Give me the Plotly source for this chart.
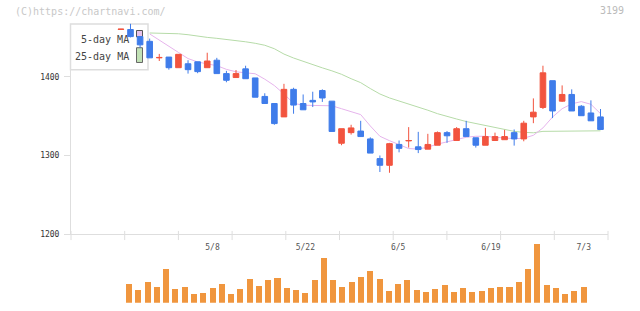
import plotly.graph_objects as go

# ---------------- data ----------------
dates = ['4/19', '4/20', '4/21', '4/24', '4/25', '4/26', '4/27', '4/28', '5/1', '5/2',
         '5/8', '5/9', '5/10', '5/11', '5/12', '5/15', '5/16', '5/17', '5/18', '5/19',
         '5/22', '5/23', '5/24', '5/25', '5/26', '5/29', '5/30', '5/31', '6/1', '6/2',
         '6/5', '6/6', '6/7', '6/8', '6/9', '6/12', '6/13', '6/14', '6/15', '6/16',
         '6/19', '6/20', '6/21', '6/22', '6/23', '6/26', '6/27', '6/28', '6/29', '6/30',
         '7/3']

opens = [1460, 1460, 1451, 1445, 1424, 1425, 1411.5, 1416.5, 1419, 1411.5,
         1421, 1404, 1399, 1410, 1398.5, 1375, 1366, 1349, 1384, 1366,
         1370, 1382.5, 1369, 1315.5, 1329, 1331, 1321, 1296, 1287.5, 1314,
         1318.5, 1311, 1308, 1313, 1329, 1319, 1334, 1322.5, 1313, 1319,
         1320, 1329, 1321, 1349, 1361, 1395, 1369, 1377.5, 1362.5, 1354,
         1349]
highs = [1460.5, 1467.5, 1451, 1448.5, 1429, 1425, 1428.5, 1421, 1419, 1430.5,
         1424, 1407.5, 1408.5, 1414, 1398.5, 1379, 1366, 1391, 1386, 1377.5,
         1381, 1384, 1369, 1334, 1339, 1344, 1323, 1300, 1316, 1319,
         1336, 1330, 1327.5, 1330.5, 1331, 1336, 1344, 1322.5, 1335, 1329,
         1332.5, 1333, 1344, 1372.5, 1414, 1395, 1389, 1384, 1364, 1370,
         1359]
lows = [1460, 1450, 1437, 1424, 1420, 1409, 1411.5, 1404, 1404.5, 1411.5,
        1404, 1393, 1399, 1397.5, 1374, 1366, 1339, 1349, 1353, 1358,
        1361.5, 1368, 1330.5, 1313, 1326.5, 1324, 1303, 1279, 1278, 1304,
        1310, 1303, 1308, 1313, 1316, 1319, 1324, 1310, 1313, 1319,
        1320, 1312.5, 1318, 1341, 1359, 1347.5, 1368, 1356.5, 1350.5, 1344,
        1333]
closes = [1460.5, 1451, 1440.5, 1424, 1424.5, 1411.5, 1428.5, 1409, 1406.5, 1420,
          1404, 1395.5, 1404, 1397.5, 1374, 1366, 1340.5, 1384, 1364, 1358,
          1368, 1373, 1330.5, 1334, 1335, 1324, 1303, 1287.5, 1315, 1309,
          1319, 1307.5, 1314, 1329, 1325, 1334, 1324, 1313, 1324, 1324,
          1324, 1321, 1341, 1355, 1405, 1356.5, 1377.5, 1356.5, 1350.5, 1344,
          1333]
volumes = [None, 5600, 3800, 6200, 4700, 10400, 4100, 4700, 2600, 2900,
           4400, 5600, 2600, 4100, 7100, 5000, 6800, 7400, 4400, 3800,
           2900, 6800, 13700, 6800, 4700, 6200, 7700, 9800, 7100, 3500,
           5600, 6800, 3800, 3200, 4100, 5300, 3200, 4400, 3200, 3500,
           4400, 4700, 4700, 6200, 10400, 17900, 5300, 4400, 2600, 3500,
           4700]
ma5 = [None, None, None,
       1454.4, 1446.9, 1438.8, 1430.9, 1423.1, 1418.8, 1416.3, 1414.1, 1409.4, 1406.3,
       1405.0, 1403.8, 1396.9, 1388.8, 1378.1, 1366.3, 1363.8, 1363.4, 1363.4, 1363.1,
       1359.4, 1355.6, 1351.9, 1337.5, 1324.4, 1318.8, 1313.8, 1308.8, 1308.1, 1310.6,
       1314.4, 1317.5, 1320.6, 1323.1, 1324.4, 1324.4, 1323.1, 1321.9, 1321.3, 1321.9,
       1325.6, 1335.0, 1348.8, 1359.4, 1365.6, 1368.4, 1365.0, 1353.1]
ma25 = [None, None, None,
        1455.6, 1455.3, 1455.0, 1454.6, 1453.4, 1451.3, 1450.0, 1448.8, 1447.5, 1446.3,
        1444.4, 1442.5, 1440.0, 1435.6, 1428.8, 1423.8, 1419.4, 1415.0, 1411.3, 1407.5,
        1403.1, 1397.5, 1392.5, 1385.0, 1378.1, 1373.1, 1369.4, 1365.0, 1361.3, 1357.5,
        1353.1, 1349.4, 1346.3, 1343.1, 1340.6, 1337.9, 1335.0, 1332.5, 1330.6, 1329.4,
        1328.8, 1330.6, 1330.6, 1330.6, 1330.6, 1331.3, 1331.3, 1331.3]
price_ticks = [1200, 1300, 1400]
label_dates = ['5/8', '5/22', '6/5', '6/19', '7/3']
code_text = '3199'
copyright_text = '(C)https://chartnavi.com/'
legend_names = ['5-day MA', '25-day MA']

# ---------------- styling / layout helpers ----------------
W, H = 640, 311
def px(x):
    return x / W
def py(y):
    return (H - y) / H

RED = '#f2543f'
BLUE = '#3f7cea'
ORANGE = '#f0963e'
PINK = '#e6b4ec'
GREEN = '#b6dba8'
AXIS = '#dedede'
MONO = 'DejaVu Sans Mono'

idx = list(range(len(dates)))

fig = go.Figure()

# moving averages (base axes, drawn beneath candles)
fig.add_trace(go.Scatter(x=idx, y=ma25, mode='lines', line=dict(color=GREEN, width=1),
                         xaxis='x', yaxis='y', showlegend=False, hoverinfo='skip'))
fig.add_trace(go.Scatter(x=idx, y=ma5, mode='lines', line=dict(color=PINK, width=1),
                         xaxis='x', yaxis='y', showlegend=False, hoverinfo='skip'))

# candles on an overlaying axis pair so they sit above the MA lines
fig.add_trace(go.Candlestick(
    x=idx, open=opens, high=highs, low=lows, close=closes,
    xaxis='x3', yaxis='y3', whiskerwidth=0,
    increasing=dict(line=dict(color=RED, width=1), fillcolor=RED),
    decreasing=dict(line=dict(color=BLUE, width=1), fillcolor=BLUE),
    showlegend=False))

# volume
fig.add_trace(go.Bar(x=idx, y=volumes, xaxis='x2', yaxis='y2', width=0.65,
                     marker=dict(color=ORANGE, line=dict(width=0)), showlegend=False))

# pixel geometry
ax_left, ax_right = 71, 608
price_top_px, price_bot_px = 24, 238
p_lo = 1200
p_hi = 1200 + (price_bot_px - price_top_px) * 1.25
c0_px, c_step = 120.9, 9.592
v1_px, v_step = 129.0, 9.28
xr_price = [(ax_left - c0_px) / c_step, (ax_right - c0_px) / c_step]
xr_vol = [1 + (ax_left - v1_px) / v_step, 1 + (ax_right - v1_px) / v_step]
vmax = max(v for v in volumes if v is not None)

label_idx = [dates.index(d) for d in label_dates]

fig.update_layout(
    width=W, height=H, margin=dict(l=0, r=0, t=0, b=0),
    paper_bgcolor='white', plot_bgcolor='white',
    boxmode='overlay', boxgap=0.166, bargap=0,
    xaxis=dict(domain=[px(ax_left), px(ax_right)], range=xr_price, anchor='y',
               showline=True, linecolor=AXIS, linewidth=1, showgrid=False,
               zeroline=False, showticklabels=False, ticks='',
               rangeslider=dict(visible=False)),
    yaxis=dict(domain=[py(price_bot_px), py(price_top_px)], range=[p_lo, p_hi], anchor='x',
               showline=True, linecolor=AXIS, linewidth=1, showgrid=False, zeroline=False,
               tickvals=price_ticks, ticks='outside', ticklen=6, tickcolor=AXIS,
               tickfont=dict(family=MONO, size=8, color='#333333'),
               ticklabelstandoff=3),
    xaxis3=dict(overlaying='x', range=xr_price, visible=False, anchor='y3',
                rangeslider=dict(visible=False)),
    yaxis3=dict(overlaying='y', range=[p_lo, p_hi], visible=False, anchor='x3'),
    xaxis2=dict(domain=[px(ax_left), px(ax_right)], range=xr_vol, anchor='free',
                position=py(245), showline=False, showgrid=False, zeroline=False,
                tickvals=label_idx, ticktext=label_dates, ticks='',
                tickfont=dict(family=MONO, size=8, color='#555555')),
    yaxis2=dict(domain=[py(307.7), py(248)], range=[0, vmax], anchor='x2',
                visible=False),
)

shapes = []
# x-axis tick marks of the price panel
for n in range(11):
    xx = ax_left + n * (ax_right - ax_left) / 10
    shapes.append(dict(type='line', xref='paper', yref='paper',
                       x0=px(xx), x1=px(xx), y0=py(234.7), y1=py(244),
                       line=dict(color=AXIS, width=1), layer='above'))
# legend box and symbols
shapes.append(dict(type='rect', xref='paper', yref='paper',
                   x0=px(70.5), x1=px(148), y0=py(71), y1=py(24.5),
                   line=dict(color='#dddddd', width=1.5), fillcolor='white', layer='below'))
shapes.append(dict(type='rect', xref='paper', yref='paper',
                   x0=px(136.5), x1=px(142.5), y0=py(37.5), y1=py(31),
                   line=dict(color='#555555', width=1), fillcolor='#e8c2ec', layer='below'))
shapes.append(dict(type='rect', xref='paper', yref='paper',
                   x0=px(136.5), x1=px(142.5), y0=py(63.5), y1=py(48.5),
                   line=dict(color='#666666', width=1), fillcolor='#c2e2b6', layer='below'))
fig.update_layout(shapes=shapes)

annotations = [
    dict(text=copyright_text, x=px(13), y=py(12), xref='paper', yref='paper',
         xanchor='left', yanchor='middle', showarrow=False,
         font=dict(family=MONO, size=10, color='#c8c8c8')),
    dict(text=code_text, x=px(626), y=py(11), xref='paper', yref='paper',
         xanchor='right', yanchor='middle', showarrow=False,
         font=dict(family=MONO, size=10, color='#bbbbbb')),
    dict(text=legend_names[0], x=px(131), y=py(40), xref='paper', yref='paper',
         xanchor='right', yanchor='middle', showarrow=False,
         font=dict(family=MONO, size=10, color='#444444')),
    dict(text=legend_names[1], x=px(131), y=py(57), xref='paper', yref='paper',
         xanchor='right', yanchor='middle', showarrow=False,
         font=dict(family=MONO, size=10, color='#444444')),
]
fig.update_layout(annotations=annotations)

fig.write_html('out.html')
